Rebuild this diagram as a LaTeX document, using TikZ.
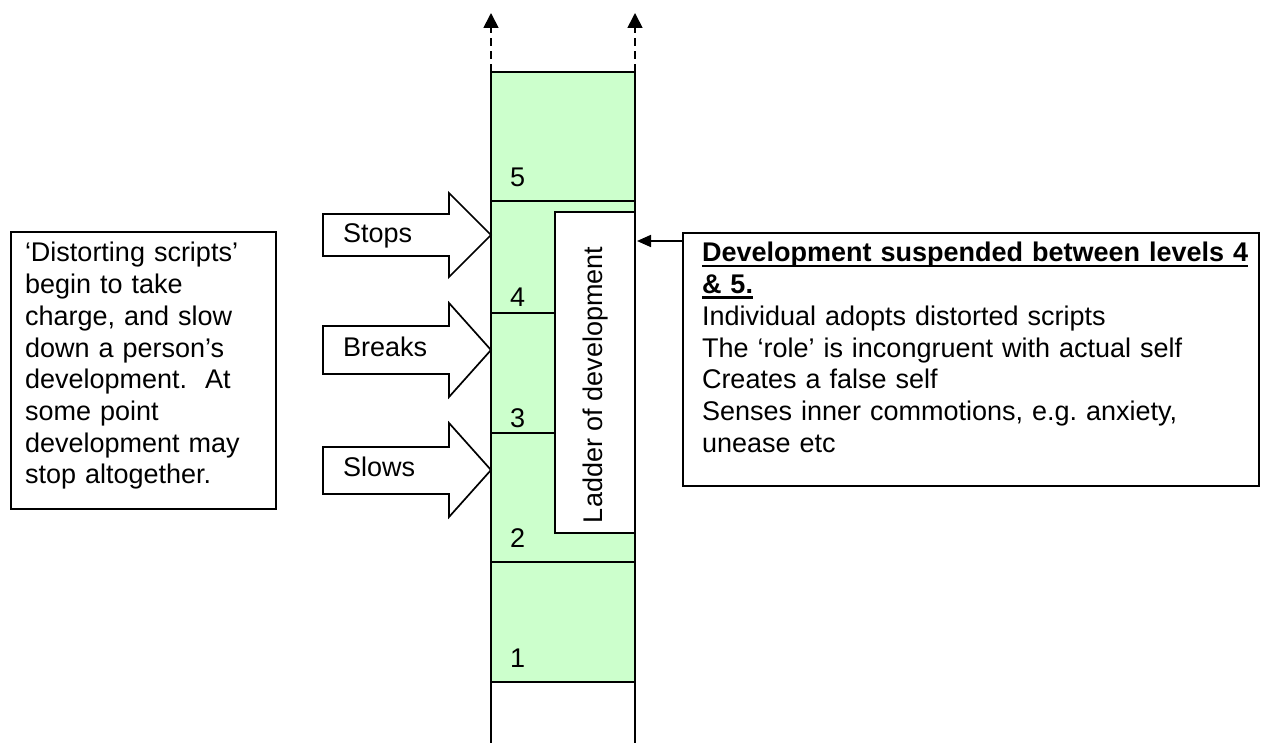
\documentclass[tikz,border=0pt]{standalone}
\usepackage{fontspec}
\setmainfont{Liberation Sans}
\usetikzlibrary{arrows.meta,calc}
\definecolor{lvlgreen}{HTML}{CCFFCC}
\newcommand\myul[1]{\setbox0=\hbox{#1}\rlap{\rule[-5pt]{\wd0}{2.2pt}}\box0}
\frenchspacing
\begin{document}
\begin{tikzpicture}[x=1pt,y=-1pt,
  every node/.style={font=\fontsize{27pt}{31.7pt}\selectfont},
  line width=1.7pt,
  level/.style={draw, fill=lvlgreen, minimum width=144pt, inner sep=0pt, outer sep=0pt, anchor=north west},
  framebox/.style={draw, fill=white, inner sep=0pt, outer sep=0pt, anchor=north west},
  txt/.style={inner sep=0pt, outer sep=0pt, anchor=base west},
  blockarrow/.style={draw, fill=white, line join=miter},
  upflow/.style={dash pattern=on 8pt off 5pt, -{Triangle[length=15pt,width=15pt]}},
  pointer/.style={-{Triangle[length=14pt,width=12pt]}},
]
\useasboundingbox (0,0) rectangle (1266,743);

% ladder levels
\node[level, minimum height=129pt] (l5) at (491,72) {};
\node[level, minimum height=112pt] (l4) at (491,201) {};
\node[level, minimum height=120pt] (l3) at (491,313) {};
\node[level, minimum height=129pt] (l2) at (491,433) {};
\node[level, minimum height=120pt] (l1) at (491,562) {};
\node[framebox, minimum width=80pt, minimum height=321pt] (ladder) at (555,212) {};
\node[txt, rotate=90] (ladtext) at (602,523) {Ladder of development};

\node[txt] (n5) at (510,187) {5};
\node[txt] (n4) at (510,306) {4};
\node[txt] (n3) at (510,427) {3};
\node[txt] (n2) at (510,547) {2};
\node[txt] (n1) at (510,667) {1};

% column continues below and above
\coordinate (botL) at (491,743);
\coordinate (botR) at (635,743);
\draw (l1.south west) -- (botL);
\draw (l1.south east) -- (botR);
\coordinate (topL) at (491,13);
\coordinate (topR) at (635,13);
\draw[upflow] (l5.north west) -- (topL);
\draw[upflow] (l5.north east) -- (topR);

% block arrows
\draw[blockarrow] (323,214) -- (449,214) -- (449,193) -- (491,235) -- (449,277) -- (449,256) -- (323,256) -- cycle;
\draw[blockarrow] (323,326) -- (449,326) -- (449,303) -- (491,350) -- (449,397) -- (449,374) -- (323,374) -- cycle;
\draw[blockarrow] (323,447) -- (449,447) -- (449,423) -- (491,470) -- (449,517) -- (449,494) -- (323,494) -- cycle;
\node[txt] (stops) at (343,243) {Stops};
\node[txt] (breaks) at (343,356) {Breaks};
\node[txt] (slows) at (343,476) {Slows};

% left text box
\node[framebox, minimum width=265pt, minimum height=277pt] (lbox) at (11,232) {};
\node[txt, text width=245pt, align=left] (ltext) at (25,262) {‘Distorting scripts’\\begin to take\\charge, and slow\\down a person’s\\development.\ \ At\\some point\\development may\\stop altogether.};

% right text box
\node[framebox, minimum width=576pt, minimum height=253pt] (rbox) at (683,233) {};
\node[txt, text width=550pt, align=left] (rtext) at (702,262) {\textbf{\myul{Development suspended between levels 4}}\\\textbf{\myul{\& 5.}}\\Individual adopts distorted scripts\\The ‘role’ is incongruent with actual self\\Creates a false self\\Senses inner commotions, e.g. anxiety,\\unease etc};

\coordinate (arrStart) at ($(rbox.north west)+(0,8)$);
\coordinate (arrEnd) at ($(arrStart -| ladder.east)+(2,0)$);
\draw[pointer] (arrStart) -- (arrEnd);
\end{tikzpicture}
\end{document}
